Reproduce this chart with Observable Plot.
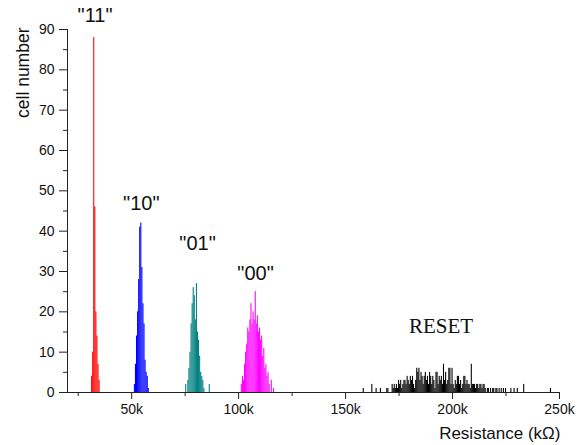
<!DOCTYPE html>
<html>
<head>
<meta charset="utf-8">
<script src="https://cdn.jsdelivr.net/npm/d3@7"></script>
<script src="https://cdn.jsdelivr.net/npm/@observablehq/plot@0.6"></script>
<style>
  html, body { margin: 0; padding: 0; background: #fff; }
  #chart svg { display: block; }
</style>
</head>
<body>
<div id="chart"></div>
<script>
// Resistance bin centres (kΩ) and cell counts
const binWidth = 0.5;

const r11 = [31.5, 32, 32.5, 33, 33.5, 34, 34.5, 35];
const n11 = [4, 10, 88, 46, 20, 14, 7, 3];

const r10 = [51.5, 52, 52.5, 53, 53.5, 54, 54.5, 55, 55.5, 56, 56.5, 57, 57.5, 58];
const n10 = [2, 7, 14, 20, 28, 41, 42, 31, 22, 17, 8, 5, 4, 1];

const r01 = [75.5, 76.5, 77, 77.5, 78, 78.5, 79, 79.5, 80, 80.5, 81, 81.5, 82, 82.5, 83, 83.5, 84, 86.5];
const n01 = [2, 3, 6, 10, 17, 22, 26, 24, 18, 27, 15, 13, 9, 5, 4, 3, 1, 2];

const r00 = [101.5, 102, 102.5, 103, 103.5, 104, 104.5, 105, 105.5, 106, 106.5, 107, 107.5, 108, 108.5,
             109, 109.5, 110, 110.5, 111, 111.5, 112, 112.5, 113, 113.5, 114, 114.5, 115.5, 116.5];
const n00 = [2, 4, 3, 7, 10, 12, 16, 15, 18, 22, 17, 20, 18, 25, 17,
             19, 15, 16, 13, 14, 9, 11, 6, 7, 4, 5, 2, 3, 1];

const rReset = [158.5, 162.5, 164.5, 166.5, 169.5, 170,
  172, 172.5, 173, 173.5, 174, 174.5, 175, 175.5, 176, 176.5,
  177, 177.5, 178, 178.5, 179, 179.5, 180, 180.5, 181, 181.5, 182, 182.5,
  183, 183.5, 184, 184.5, 185, 185.5, 186, 186.5, 187, 187.5, 188, 188.5, 189, 189.5,
  190, 190.5, 191, 191.5, 192, 192.5, 193, 193.5, 194, 194.5, 195, 195.5, 196, 196.5, 197, 197.5,
  198, 198.5, 199, 199.5, 200, 200.5, 201, 201.5, 202, 202.5, 203, 203.5, 204, 204.5, 205, 205.5,
  206, 206.5, 207, 207.5, 208, 208.5, 209, 209.5, 210, 210.5, 211, 211.5, 212, 212.5, 213, 213.5,
  214, 214.5, 215, 215.5, 216.5, 217, 218, 219, 219.5, 220.5, 221, 222, 223, 224, 225,
  227.5, 229, 230.5, 233.5, 246];
const nReset = [1, 2, 1, 1, 1, 1,
  2, 1, 2, 1, 2, 1, 3, 2, 3, 1,
  2, 3, 3, 2, 4, 3, 2, 4, 3, 4, 2, 1,
  3, 6, 5, 6, 3, 5, 4, 2, 4, 5, 3, 4, 2, 5,
  4, 2, 4, 3, 1, 5, 5, 2, 4, 3, 4, 2, 7, 3, 5, 2,
  3, 6, 6, 2, 6, 2, 1, 3, 2, 4, 4, 2, 3, 1, 2, 4,
  4, 2, 3, 2, 2, 1, 7, 2, 2, 2, 1, 2, 2, 1, 2, 2,
  1, 2, 2, 1, 1, 1, 1, 1, 1, 1, 1, 1, 1, 1, 1,
  1, 1, 1, 2, 1];

// state labels
const labelText = ['"11"', '"10"', '"01"', '"00"'];
const labelR = [32.9, 54.5, 80.8, 107.9];
const labelN = [93.5, 46.9, 36.9, 29.6];
const resetText = ["RESET"];
const resetR = [194.6];
const resetN = [16.4];

// axis ticks
const yMajor = [0, 10, 20, 30, 40, 50, 60, 70, 80, 90];
const yMinor = [5, 15, 25, 35, 45, 55, 65, 75, 85];
const xMajor = [50, 100, 150, 200, 250];
const xMinor = [25, 75, 125, 175, 225];

const rows = (rs, ns) => rs.map((r, i) => ({r, n: ns[i]}));
const bars = (rs, ns, color) => Plot.rectY(rows(rs, ns), {
  x1: d => d.r - binWidth / 2,
  x2: d => d.r + binWidth / 2,
  y: "n",
  fill: color
});

const axisColor = "#222";
const chart = Plot.plot({
  width: 583,
  height: 445,
  marginLeft: 67,
  marginRight: 24,
  marginTop: 29,
  marginBottom: 53,
  style: {fontFamily: "'Liberation Sans', Arial, sans-serif", fontSize: "13px", color: "#111", background: "#fff"},
  x: {domain: [20, 250]},
  y: {domain: [0, 90]},
  marks: [
    bars(r11, n11, "#ff0000"),
    bars(r10, n10, "#0000ff"),
    bars(r01, n01, "#008080"),
    bars(r00, n00, "#ff00ff"),
    bars(rReset, nReset, "#000000"),
    Plot.ruleX([20], {stroke: axisColor}),
    Plot.ruleY([0], {stroke: axisColor}),
    Plot.axisY(yMajor, {tickSize: 8, tickPadding: 5, label: null, stroke: axisColor, fontSize: 14}),
    Plot.axisY(yMinor, {tickSize: 4, text: null, label: null, stroke: axisColor}),
    Plot.axisX(xMajor, {tickSize: 7, tickPadding: 5, label: null, stroke: axisColor, fontSize: 14,
      tickFormat: d => d + "k"}),
    Plot.axisX(xMinor, {tickSize: 4, text: null, label: null, stroke: axisColor}),
    Plot.text(["cell number"], {frameAnchor: "top-left", rotate: -90, textAnchor: "end",
      dx: -51, dy: -2, fontSize: 17.5, fill: "#111"}),
    Plot.text(["Resistance (kΩ)"], {frameAnchor: "bottom-right", textAnchor: "end",
      dx: 1, dy: 46, fontSize: 17, fill: "#111"}),
    Plot.text(rows(labelR, labelN).map((d, i) => ({...d, t: labelText[i]})),
      {x: "r", y: "n", text: "t", fontSize: 20, fill: "#111", clip: false}),
    Plot.text(rows(resetR, resetN).map((d, i) => ({...d, t: resetText[i]})),
      {x: "r", y: "n", text: "t", fontSize: 21, fill: "#111",
       fontFamily: "'Liberation Serif', 'Times New Roman', serif"})
  ]
});
document.getElementById("chart").appendChild(chart);
</script>
</body>
</html>
